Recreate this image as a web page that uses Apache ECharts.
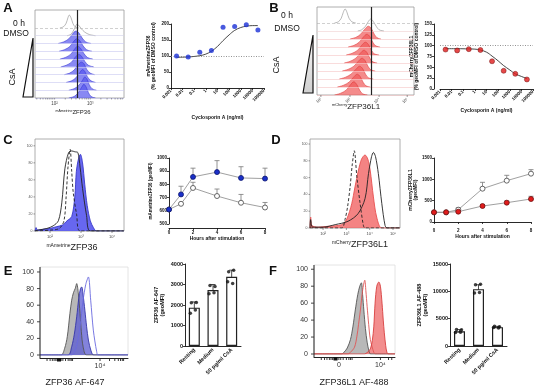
<!DOCTYPE html>
<html>
<head>
<meta charset="utf-8">
<script src="https://cdn.jsdelivr.net/npm/echarts@6/dist/echarts.min.js"></script>
<style>
html, body { margin: 0; padding: 0; background: #fff; }
#chart { width: 534px; height: 389px; }
</style>
</head>
<body>
<div id="chart"></div>
<script>
// ---------- data ----------
// A / B : flow ridge plots, [x (0-100 across the box), height in rows]
const ridgeA0h = [[28, 0], [32, 0.15], [35, 0.6], [37, 1.3], [38.5, 1.65], [40.5, 1.3], [42.5, 0.6], [45, 0.15], [49, 0]]
const ridgeADmso = [[36, 0], [40, 0.15], [43, 0.6], [45.5, 1.2], [47, 1.45], [49, 1.35], [52, 0.9], [56, 0.45], [61, 0.15], [68, 0]]
const ridgeACsa = [
  [[26, 0], [32, 0.2], [38, 0.6], [42, 1.2], [46, 1.6], [49, 1.4], [53, 0.7], [57, 0.2], [63, 0]],
  [[27, 0], [33, 0.2], [39, 0.6], [43, 1.2], [47, 1.6], [50, 1.4], [54, 0.7], [58, 0.2], [64, 0]],
  [[28, 0], [34, 0.2], [40, 0.6], [44, 1.2], [48, 1.65], [51, 1.4], [55, 0.7], [59, 0.2], [65, 0]],
  [[29, 0], [35, 0.2], [41, 0.6], [45, 1.2], [49, 1.6], [52, 1.4], [56, 0.7], [60, 0.2], [66, 0]],
  [[33, 0], [39, 0.2], [44, 0.6], [48, 1.2], [52, 1.6], [55, 1.4], [58, 0.7], [62, 0.2], [67, 0]],
  [[35, 0], [41, 0.2], [46, 0.6], [50, 1.2], [53.5, 1.65], [56, 1.4], [59, 0.7], [63, 0.2], [68, 0]],
  [[38, 0], [44, 0.2], [49, 0.6], [53, 1.2], [56, 1.7], [58.5, 1.4], [61, 0.7], [64, 0.2], [69, 0]],
  [[38, 0], [44, 0.2], [48, 0.6], [52, 1.3], [55, 1.75], [57.5, 1.4], [60, 0.7], [63, 0.2], [68, 0]]
]
const ridgeB0h = [[18, 0], [22, 0.15], [25, 0.6], [27, 1.3], [29, 1.75], [31, 1.3], [33, 0.6], [36, 0.15], [40, 0]]
const ridgeBDmso = [[42, 0], [46, 0.15], [50, 0.6], [53, 1.2], [55.5, 1.5], [58, 1.2], [61, 0.6], [64, 0.15], [69, 0]]
const ridgeBCsa = [
  [[34, 0], [40, 0.2], [45, 0.6], [49, 1.2], [53, 1.6], [56, 1.3], [59, 0.6], [62, 0.15], [66, 0]],
  [[32, 0], [38, 0.2], [43.5, 0.6], [47.5, 1.2], [51.5, 1.6], [54.5, 1.3], [57.5, 0.6], [60.5, 0.15], [65, 0]],
  [[30, 0], [36, 0.2], [42, 0.6], [46, 1.2], [50, 1.6], [53, 1.3], [56, 0.6], [59, 0.15], [64, 0]],
  [[28, 0], [34, 0.2], [40, 0.6], [44.5, 1.2], [48.5, 1.6], [51.5, 1.3], [54.5, 0.6], [57.5, 0.15], [62, 0]],
  [[26, 0], [32, 0.2], [38, 0.6], [42.5, 1.2], [46.5, 1.6], [49.5, 1.3], [52.5, 0.6], [55.5, 0.15], [60, 0]],
  [[23, 0], [29, 0.2], [35, 0.6], [40, 1.2], [44, 1.6], [47, 1.3], [50, 0.6], [53, 0.15], [58, 0]],
  [[21, 0], [27, 0.2], [33, 0.6], [37.5, 1.2], [41.5, 1.6], [44.5, 1.3], [47.5, 0.6], [50.5, 0.15], [55, 0]],
  [[18, 0], [24, 0.2], [30, 0.6], [34, 1.2], [38, 1.65], [41, 1.3], [44, 0.6], [47, 0.15], [52, 0]]
]
const ridgeAGate = 48
const ridgeBGate = 55.7
const ridgeATicks = [2, 6, 9, 12, 14, 16, 18, 20, 22, 34, 41, 46, 50, 53, 56, 58, 60, 62, 74, 81, 86, 90, 93, 96, 98]
const ridgeALabelPos = [22, 62]
const ridgeALabels = ['10²', '10³']
const ridgeBLabelPos = [4, 34, 64, 93]
const ridgeBLabels = ['10²', '10³', '10⁴', '10⁵']

// A / B : dose response
const doses = [0.003, 0.03, 0.3, 3, 30, 300, 3000, 30000]
const doseZfp36 = [100, 97, 112, 117, 190, 192, 198, 181]
const doseZfp36l1 = [91, 89, 92, 90, 64, 42, 35, 22]
const fitDoses = [0.003, 0.03, 0.3, 1, 3, 10, 30, 100, 300, 1000, 3000, 10000, 30000]
const fitZfp36 = [96, 97, 101, 106, 115, 130, 148, 166, 180, 189, 193, 195, 195]
const fitZfp36l1 = [93, 93, 92.5, 92, 90, 85, 76, 65, 54, 44, 35, 29, 24]

// C / D : overlay histograms, [log10 intensity, % of max]
const histCDashed = [[1.52, 0], [2.0, 1], [2.3, 3], [2.45, 12], [2.52, 40], [2.58, 75], [2.65, 96], [2.7, 70], [2.75, 45], [2.86, 19], [2.97, 0], [4.38, 0]]
const histCSolid = [[1.52, 0], [1.6, 1], [1.9, 3], [2.1, 6], [2.27, 12], [2.38, 33], [2.48, 73], [2.6, 92], [2.7, 94], [2.8, 93], [2.9, 92], [2.97, 75], [3.05, 50], [3.18, 18], [3.3, 0], [4.38, 0]]
const histCFilled = [[1.52, 0], [1.55, 4], [1.6, 1], [1.8, 2], [2.0, 3], [2.2, 5], [2.4, 7], [2.55, 12], [2.7, 17], [2.8, 40], [2.85, 70], [2.92, 85], [2.98, 90], [3.05, 80], [3.12, 55], [3.2, 30], [3.3, 12], [3.4, 4], [3.5, 0], [4.38, 0]]
const histDDashed = [[1.44, 0], [2.8, 0], [2.94, 10], [3.05, 25], [3.16, 49], [3.25, 75], [3.34, 92], [3.45, 61], [3.59, 29], [3.73, 3], [3.8, 0], [5.29, 0]]
const histDSolid = [[1.44, 0], [1.47, 10], [1.55, 1], [2.0, 1], [2.52, 4], [3.07, 8], [3.5, 17], [3.8, 35], [3.95, 65], [4.08, 85], [4.16, 90], [4.25, 85], [4.37, 65], [4.52, 29], [4.66, 3], [4.75, 0], [5.29, 0]]
const histDFilled = [[1.44, 0], [1.47, 13], [1.52, 3], [1.8, 1], [2.2, 2], [2.8, 4], [3.02, 11], [3.23, 29], [3.37, 49], [3.52, 69], [3.65, 82], [3.8, 87], [3.92, 82], [4.02, 69], [4.16, 37], [4.3, 13], [4.52, 0], [5.29, 0]]
const histCLabelPos = [2, 3, 4]
const histCLabels = ['10²', '10³', '10⁴']
const histDLabelPos = [2, 3, 4, 5]
const histDLabels = ['10²', '10³', '10⁴', '10⁵']
const pctTickValues = [0, 20, 40, 60, 80, 100]

// C / D : time course (geoMFI)
const hours = [0, 1, 2, 4, 6, 8]
const cCsaMean = [610, 724, 857, 893, 849, 844]
const cCsaTop = [610, 786, 923, 980, 934, 923]
const cCtrlMean = [610, 653, 773, 712, 661, 625]
const cCtrlTop = [610, 653, 816, 765, 724, 663]
const dCtrlMean = [227, 227, 289, 781, 969, 1133]
const dCtrlTop = [227, 227, 328, 930, 1094, 1227]
const dCsaMean = [227, 227, 242, 375, 453, 539]
const dCsaTop = [227, 227, 250, 406, 492, 602]

// E / F : antibody staining histograms, [x (0-100 across the box), % of max]
const histEResting = [[0, 0], [24, 0], [28, 8], [31, 22], [34, 50], [36, 66], [38, 75], [40, 80], [41.7, 86], [43.5, 75], [45.5, 50], [47, 28], [49, 10], [53, 0], [100, 0]]
const histEMedium = [[0, 0], [32, 0], [36, 10], [39, 25], [41.7, 46], [44, 68], [46, 80], [47.4, 82], [49, 72], [51, 54], [53, 34], [55, 18], [58, 5], [61, 0], [100, 0]]
const histECsa = [[0, 0], [36, 0], [40, 6], [43, 18], [45.5, 34], [49, 66], [52, 85], [55, 94], [57.6, 66], [60.6, 30], [64.4, 4], [66, 0], [100, 0]]
const histFResting = [[0, 0], [34, 0], [37, 2], [41, 7], [45, 17], [48, 32], [51, 52], [54, 70], [56.5, 80], [58.5, 84], [60, 70], [61.5, 52], [63.5, 30], [65.6, 14], [68, 3], [70, 0], [100, 0]]
const histFCsa = [[0, 0], [42, 0], [45, 2], [50, 8], [53, 21], [55, 35], [57.3, 52], [60, 75], [62.7, 87], [64, 75], [65.6, 56], [67.5, 35], [69.6, 17], [73.8, 2], [76, 0], [100, 0]]
const histFMedium = [[0, 0], [62, 0], [66, 2], [69.6, 6], [72, 16], [73.8, 32], [75.4, 60], [77.5, 80], [80, 85], [82, 80], [84, 60], [85.5, 40], [86.8, 25], [88.5, 10], [90, 2], [92, 0], [100, 0]]
const histETicks = [8, 11.5, 14, 16, 18, 19.5, 20.5, 21, 21.5, 22, 22.5, 24, 26, 29, 32, 34, 35.5, 37, 68.2, 79, 85, 89, 91.5, 93.5, 95]
const histELabelPos = [68.2]
const histELabels = ['10⁴']
const histFTicks = [9, 13, 16, 19, 21, 23, 25, 26, 26.5, 27, 27.5, 28, 30.7, 33, 36, 40, 43, 45, 47, 82, 92, 96]
const histFLabelPos = [30.7, 82]
const histFLabels = ['0', '10⁴']

// E / F : bar charts
const groups = ['Resting', 'Medium', '50 pg/ml CsA']
const eMeans = [1870, 2730, 3380]
const eLow = [1600, 2470, 3060]
const eHigh = [2150, 3000, 3700]
const eDots = [[2110, 2120, 1600, 1760], [2950, 2900, 2550, 2600], [3620, 3700, 3130, 3050]]
const fMeans = [2700, 10400, 3450]
const fLow = [2400, 9600, 3300]
const fHigh = [3000, 11200, 3600]
const fDots = [[3000, 2950, 2450, 2500], [11200, 11300, 9700, 9800], [3600, 3500, 3400, 3300]]
const dotJitter = [-3, 2, -4, 1]

// ---------- helpers ----------
const FONT = 'Liberation Sans'
const chart = echarts.init(document.getElementById('chart'), null, { renderer: 'canvas' })
const plain = v => String(v)

function prismAxis(extra) {
  return Object.assign({
    axisLine: { show: true, lineStyle: { color: '#111', width: 0.9 } },
    axisTick: { show: true, length: 2, lineStyle: { color: '#111', width: 0.8 } },
    axisLabel: { fontFamily: FONT, fontSize: 4.5, fontWeight: 'bold', color: '#111', margin: 2, formatter: plain },
    splitLine: { show: false },
    nameTextStyle: { fontFamily: FONT, fontSize: 5, fontWeight: 'bold', color: '#111' }
  }, extra)
}

// flow axes: the library scale only, ticks and labels are added after layout
function bareAxis(extra) {
  return Object.assign({
    axisLine: { show: false }, axisTick: { show: false }, axisLabel: { show: false }, splitLine: { show: false }
  }, extra)
}

function errBars(gi, data, color, both) {
  return {
    type: 'custom', xAxisIndex: gi, yAxisIndex: gi, z: 1, silent: true,
    encode: { x: 0, y: [1, 2] },
    data: data,
    renderItem: function (params, api) {
      const lo = api.coord([api.value(0), api.value(1)])
      const hi = api.coord([api.value(0), api.value(2)])
      const st = { stroke: color, lineWidth: 0.8 }
      const kids = [
        { type: 'line', shape: { x1: lo[0], y1: lo[1], x2: hi[0], y2: hi[1] }, style: st },
        { type: 'line', shape: { x1: hi[0] - 2.5, y1: hi[1], x2: hi[0] + 2.5, y2: hi[1] }, style: st }
      ]
      if (both) kids.push({ type: 'line', shape: { x1: lo[0] - 2.5, y1: lo[1], x2: lo[0] + 2.5, y2: lo[1] }, style: st })
      return { type: 'group', children: kids }
    }
  }
}

function ridgeSeries(gi, curves, fills, lines, baseColors, gate) {
  const n = curves.length
  return curves.map(function (pts, i) {
    const base = n - 1 - i
    const s = {
      type: 'line', xAxisIndex: gi, yAxisIndex: gi, smooth: 0.35, symbol: 'none', silent: true,
      data: pts.map(p => [p[0], base + p[1]]),
      lineStyle: { color: lines[i], width: 0.6 },
      markLine: {
        silent: true, symbol: 'none', label: { show: false },
        lineStyle: { color: baseColors[i], width: 0.6, type: i === 0 ? [3, 2] : 'solid' },
        data: [{ yAxis: base }]
      }
    }
    if (fills[i]) s.areaStyle = { color: fills[i], opacity: 0.7, origin: base }
    if (i === n - 1) {
      s.markLine.data.push({ xAxis: gate, lineStyle: { color: '#222', width: 1.2, type: 'solid' } })
    }
    return s
  })
}

function histSeries(gi, data, line, fill, dashed, opacity) {
  const s = {
    type: 'line', xAxisIndex: gi, yAxisIndex: gi, smooth: 0.3, symbol: 'none', silent: true,
    data: data,
    lineStyle: { color: line, width: 0.9, type: dashed ? [3, 2] : 'solid' }
  }
  if (fill) s.areaStyle = { color: fill, opacity: opacity, origin: 0 }
  return s
}

function dotSeries(gi, dots) {
  const d = []
  dots.forEach(function (vals, ci) {
    vals.forEach(function (v, j) {
      d.push({ value: [ci, v], symbolOffset: [dotJitter[j], 0] })
    })
  })
  return {
    type: 'scatter', xAxisIndex: gi, yAxisIndex: gi, symbolSize: 3.5, z: 5, silent: true,
    itemStyle: { color: '#111' }, data: d
  }
}

// ---------- grids ----------
const grids = [
  { left: 35, top: 10, width: 89, height: 88, show: true, borderColor: '#999', borderWidth: 0.8 },   // 0 ridge A
  { left: 171, top: 24, width: 93, height: 64 },                                                    // 1 dose A
  { left: 317, top: 7, width: 97, height: 88, show: true, borderColor: '#999', borderWidth: 0.8 },  // 2 ridge B
  { left: 440, top: 24, width: 93, height: 65 },                                                    // 3 dose B
  { left: 35, top: 139, width: 89, height: 92, show: true, borderColor: '#999', borderWidth: 0.8 }, // 4 hist C
  { left: 169, top: 158, width: 96, height: 66 },                                                   // 5 time C
  { left: 310, top: 139, width: 90, height: 89, show: true, borderColor: '#999', borderWidth: 0.8 },// 6 hist D
  { left: 434, top: 158, width: 97, height: 64 },                                                   // 7 time D
  { left: 40, top: 267, width: 88, height: 88, show: true, borderColor: '#ddd', borderWidth: 0.8 }, // 8 hist E
  { left: 185, top: 264, width: 56, height: 82 },                                                   // 9 bar E
  { left: 314, top: 265, width: 81, height: 89, show: true, borderColor: '#ddd', borderWidth: 0.8 },// 10 hist F
  { left: 450, top: 264, width: 57, height: 82 }                                                    // 11 bar F
].map(g => Object.assign({ outerBoundsMode: 'none', containLabel: false }, g))

const xAxes = [
  bareAxis({ gridIndex: 0, type: 'value', min: 0, max: 100 }),
  prismAxis({ gridIndex: 1, type: 'log', min: 0.001, max: 100000, splitNumber: 8,
    axisLabel: { rotate: 45, fontFamily: FONT, fontSize: 4.5, fontWeight: 'bold', color: '#111', margin: 2, formatter: v => String(+(+v).toPrecision(3)) },
    name: 'Cyclosporin A (ng/ml)', nameLocation: 'middle', nameGap: 27 }),
  bareAxis({ gridIndex: 2, type: 'value', min: 0, max: 100 }),
  prismAxis({ gridIndex: 3, type: 'log', min: 0.001, max: 100000, splitNumber: 8,
    axisLabel: { rotate: 45, fontFamily: FONT, fontSize: 4.5, fontWeight: 'bold', color: '#111', margin: 2, formatter: v => String(+(+v).toPrecision(3)) },
    name: 'Cyclosporin A (ng/ml)', nameLocation: 'middle', nameGap: 19 }),
  bareAxis({ gridIndex: 4, type: 'value', min: 1.516, max: 4.387 }),
  prismAxis({ gridIndex: 5, type: 'value', min: 0, max: 8, interval: 2, offset: 4,
    name: 'Hours after stimulation', nameLocation: 'middle', nameGap: 8 }),
  bareAxis({ gridIndex: 6, type: 'value', min: 1.44, max: 5.3 }),
  prismAxis({ gridIndex: 7, type: 'value', min: 0, max: 8, interval: 2, offset: 4,
    name: 'Hours after stimulation', nameLocation: 'middle', nameGap: 8 }),
  bareAxis({ gridIndex: 8, type: 'value', min: 0, max: 100, offset: 3,
    axisLine: { show: true, onZero: false, lineStyle: { color: '#222', width: 1 } } }),
  prismAxis({ gridIndex: 9, type: 'category', data: groups,
    axisTick: { show: false },
    axisLabel: { rotate: 45, interval: 0, fontFamily: FONT, fontSize: 5.5, fontWeight: 'bold', color: '#111', margin: 3 } }),
  bareAxis({ gridIndex: 10, type: 'value', min: 0, max: 100, offset: 3,
    axisLine: { show: true, onZero: false, lineStyle: { color: '#222', width: 1 } } }),
  prismAxis({ gridIndex: 11, type: 'category', data: groups,
    axisTick: { show: false },
    axisLabel: { rotate: 45, interval: 0, fontFamily: FONT, fontSize: 5.5, fontWeight: 'bold', color: '#111', margin: 3 } })
]

const yAxes = [
  bareAxis({ gridIndex: 0, type: 'value', min: 0, max: 11.3 }),
  prismAxis({ gridIndex: 1, type: 'value', min: 0, max: 200, interval: 50,
    name: 'mAmetrineZFP36\n(% geoMFI of DMSO control)', nameLocation: 'middle', nameGap: 15, nameRotate: 90 }),
  bareAxis({ gridIndex: 2, type: 'value', min: 0, max: 11 }),
  prismAxis({ gridIndex: 3, type: 'value', min: 0, max: 150, interval: 25, offset: 6,
    name: 'mCherryZFP36L1\n(% geoMFI of DMSO control)', nameLocation: 'middle', nameGap: 15, nameRotate: 90 }),
  bareAxis({ gridIndex: 4, type: 'value', min: 0, max: 108 }),
  prismAxis({ gridIndex: 5, type: 'value', min: 500, max: 1000, interval: 100,
    name: 'mAmetrineZFP36 (geoMFI)', nameLocation: 'middle', nameGap: 10, nameRotate: 90,
    nameTextStyle: { fontFamily: FONT, fontSize: 4.5, fontWeight: 'bold', color: '#111' } }),
  bareAxis({ gridIndex: 6, type: 'value', min: 0, max: 106 }),
  prismAxis({ gridIndex: 7, type: 'value', min: 0, max: 1500, interval: 500,
    name: 'mCherryZFP36L1\n(geoMFI)', nameLocation: 'middle', nameGap: 13, nameRotate: 90 }),
  bareAxis({ gridIndex: 8, type: 'value', min: 0, max: 106 }),
  prismAxis({ gridIndex: 9, type: 'value', min: 0, max: 4000, interval: 1000,
    axisLabel: { fontFamily: FONT, fontSize: 5.5, fontWeight: 'bold', color: '#111', margin: 2, formatter: plain },
    name: 'ZFP36 AF-647\n(geoMFI)', nameLocation: 'middle', nameGap: 19, nameRotate: 90,
    nameTextStyle: { fontFamily: FONT, fontSize: 5.5, fontWeight: 'bold', color: '#111', lineHeight: 6.5 } }),
  bareAxis({ gridIndex: 10, type: 'value', min: 0, max: 105 }),
  prismAxis({ gridIndex: 11, type: 'value', min: 0, max: 15000, interval: 5000,
    axisLabel: { fontFamily: FONT, fontSize: 5.5, fontWeight: 'bold', color: '#111', margin: 2, formatter: plain },
    name: 'ZFP36L1 AF-488\n(geoMFI)', nameLocation: 'middle', nameGap: 19, nameRotate: 90,
    nameTextStyle: { fontFamily: FONT, fontSize: 5.5, fontWeight: 'bold', color: '#111', lineHeight: 6.5 } })
]

// ---------- series ----------
const blueFill = '#5656ee'
const redFill = '#f05a5a'
const series = []

series.push.apply(series, ridgeSeries(0,
  [ridgeA0h, ridgeADmso].concat(ridgeACsa),
  [null, null].concat(ridgeACsa.map(() => blueFill)),
  ['#8a8a8a', '#8a8a8a'].concat(ridgeACsa.map(() => '#3a3ad4')),
  ['#b0b0b0', '#d0d0e8'].concat(ridgeACsa.map(() => '#c8c8f0')),
  ridgeAGate))
series.push.apply(series, ridgeSeries(2,
  [ridgeB0h, ridgeBDmso].concat(ridgeBCsa),
  [null, null].concat(ridgeBCsa.map(() => redFill)),
  ['#8a8a8a', '#8a8a8a'].concat(ridgeBCsa.map(() => '#e03a3a')),
  ['#b0b0b0', '#f0d0d0'].concat(ridgeBCsa.map(() => '#f5c4c4')),
  ridgeBGate))

// dose response
series.push({
  type: 'line', xAxisIndex: 1, yAxisIndex: 1, smooth: 0.4, symbol: 'none', silent: true,
  data: fitDoses.map((d, i) => [d, fitZfp36[i]]),
  lineStyle: { color: '#333', width: 0.9 },
  markLine: { silent: true, symbol: 'none', label: { show: false }, lineStyle: { color: '#777', type: [1, 1.5], width: 0.8 }, data: [{ yAxis: 100 }] }
})
series.push({
  type: 'scatter', xAxisIndex: 1, yAxisIndex: 1, symbolSize: 5, silent: true, z: 5,
  itemStyle: { color: '#1a2fd6' }, data: doses.map((d, i) => [d, doseZfp36[i]])
})
series.push({
  type: 'line', xAxisIndex: 3, yAxisIndex: 3, smooth: 0.4, symbol: 'none', silent: true,
  data: fitDoses.map((d, i) => [d, fitZfp36l1[i]]),
  lineStyle: { color: '#333', width: 0.9 },
  markLine: { silent: true, symbol: 'none', label: { show: false }, lineStyle: { color: '#777', type: [1, 1.5], width: 0.8 }, data: [{ yAxis: 100 }] }
})
series.push({
  type: 'scatter', xAxisIndex: 3, yAxisIndex: 3, symbolSize: 5, silent: true, z: 5,
  itemStyle: { color: '#e01c1c', borderColor: '#701010', borderWidth: 0.6 }, data: doses.map((d, i) => [d, doseZfp36l1[i]])
})

// C / D histograms
series.push(histSeries(4, histCFilled, '#3838c8', blueFill, false, 0.9))
series.push(histSeries(4, histCSolid, '#222', null, false))
series.push(histSeries(4, histCDashed, '#222', null, true))
series.push(histSeries(6, histDFilled, '#e85050', redFill, false, 0.75))
series.push(histSeries(6, histDSolid, '#222', null, false))
series.push(histSeries(6, histDDashed, '#222', null, true))

// C / D time courses
function timeLine(gi, mean, filled, fillColor, border) {
  return {
    type: 'line', xAxisIndex: gi, yAxisIndex: gi, symbol: 'circle', symbolSize: 5, z: 4, silent: true,
    data: hours.map((h, i) => [h, mean[i]]),
    lineStyle: { color: '#888', width: 0.8 },
    itemStyle: { color: filled ? fillColor : '#fff', borderColor: border, borderWidth: 0.8 }
  }
}
series.push(errBars(5, hours.map((h, i) => [h, cCsaMean[i], cCsaTop[i]]), '#777'))
series.push(errBars(5, hours.map((h, i) => [h, cCtrlMean[i], cCtrlTop[i]]), '#777'))
series.push(timeLine(5, cCtrlMean, false, null, '#444'))
series.push(timeLine(5, cCsaMean, true, '#1a2fc8', '#0c1670'))
series.push(errBars(7, hours.map((h, i) => [h, dCtrlMean[i], dCtrlTop[i]]), '#777'))
series.push(errBars(7, hours.map((h, i) => [h, dCsaMean[i], dCsaTop[i]]), '#777'))
series.push(timeLine(7, dCtrlMean, false, null, '#444'))
series.push(timeLine(7, dCsaMean, true, '#e01c1c', '#701010'))

// E / F histograms
series.push(histSeries(8, histEResting, '#555', '#b8b8b8', false, 1))
series.push(histSeries(8, histEMedium, '#3434a8', '#5a5ad0', false, 0.75))
series.push(histSeries(8, histECsa, '#6a6ae0', null, false))
series.push(histSeries(10, histFResting, '#555', '#b8b8b8', false, 1))
series.push(histSeries(10, histFCsa, '#e05555', null, false))
series.push(histSeries(10, histFMedium, '#d84040', '#f07a7a', false, 0.85))

// E / F bars
series.push({
  type: 'bar', xAxisIndex: 9, yAxisIndex: 9, barWidth: 11, silent: true, data: eMeans,
  itemStyle: { color: '#fff', borderColor: '#222', borderWidth: 1.2 }
})
series.push(errBars(9, groups.map((g, i) => [i, eLow[i], eHigh[i]]), '#222', true))
series.push(dotSeries(9, eDots))
series.push({
  type: 'bar', xAxisIndex: 11, yAxisIndex: 11, barWidth: 11, silent: true, data: fMeans,
  itemStyle: { color: '#fff', borderColor: '#222', borderWidth: 1.2 }
})
series.push(errBars(11, groups.map((g, i) => [i, fLow[i], fHigh[i]]), '#222', true))
series.push(dotSeries(11, fDots))

// ---------- text / decorations ----------
function txt(x, y, text, size, extra) {
  return {
    type: 'text', x: x, y: y, silent: true,
    style: Object.assign({ text: text, fontFamily: FONT, fontSize: size, fill: '#111', align: 'center', verticalAlign: 'middle' }, extra || {})
  }
}
function richTxt(x, y, sup, main, supSize, mainSize) {
  return {
    type: 'text', x: x, y: y, silent: true,
    style: {
      text: '{s|' + sup + '}{m|' + main + '}', align: 'center', verticalAlign: 'middle',
      rich: {
        s: { fontFamily: FONT, fontSize: supSize, fill: '#222', verticalAlign: 'top', padding: [0, 0, mainSize * 0.45, 0] },
        m: { fontFamily: FONT, fontSize: mainSize, fill: '#222' }
      }
    }
  }
}

const graphics = [
  txt(8, 8, 'A', 13, { fontWeight: 'bold' }),
  txt(274, 8, 'B', 13, { fontWeight: 'bold' }),
  txt(8, 140, 'C', 13, { fontWeight: 'bold' }),
  txt(276, 140, 'D', 13, { fontWeight: 'bold' }),
  txt(8, 271, 'E', 13, { fontWeight: 'bold' }),
  txt(273, 271, 'F', 13, { fontWeight: 'bold' }),
  txt(19, 23.5, '0 h', 8.5),
  txt(16, 33.5, 'DMSO', 8.5),
  txt(287, 16, '0 h', 8.5),
  txt(287, 29, 'DMSO', 8.5),
  { type: 'text', x: 13, y: 77, rotation: Math.PI / 2, silent: true,
    style: { text: 'CsA', fontFamily: FONT, fontSize: 9, fill: '#111', align: 'center', verticalAlign: 'middle' } },
  { type: 'text', x: 277, y: 65, rotation: Math.PI / 2, silent: true,
    style: { text: 'CsA', fontFamily: FONT, fontSize: 9, fill: '#111', align: 'center', verticalAlign: 'middle' } },
  { type: 'polygon', silent: true, shape: { points: [[23, 97], [33, 38], [33, 97]] },
    style: { fill: '#fff', stroke: '#111', lineWidth: 1.2 } },
  { type: 'polygon', silent: true, shape: { points: [[303, 93], [313, 35], [313, 93]] },
    style: {
      fill: { type: 'linear', x: 0, y: 0, x2: 0, y2: 1, colorStops: [{ offset: 0, color: '#fafafa' }, { offset: 1, color: '#cfcfcf' }] },
      stroke: '#111', lineWidth: 1.2
    } },
  richTxt(73, 112, 'mAmetrine', 'ZFP36', 3.5, 6),
  richTxt(356, 107, 'mCherry', 'ZFP36L1', 4, 8),
  richTxt(72, 248, 'mAmetrine', 'ZFP36', 5, 9),
  richTxt(360, 245, 'mCherry', 'ZFP36L1', 5, 9),
  txt(75, 383, 'ZFP36 AF-647', 9, { fill: '#222' }),
  txt(354, 383, 'ZFP36L1 AF-488', 9, { fill: '#222' })
]

chart.setOption({
  animation: false,
  backgroundColor: '#fff',
  textStyle: { fontFamily: FONT },
  grid: grids,
  xAxis: xAxes,
  yAxis: yAxes,
  series: series,
  graphic: graphics
})

// ---------- flow cytometry axis ticks, placed with the library's own scales ----------
const flowX = [
  { gi: 0, ticks: ridgeATicks, pos: ridgeALabelPos, labels: ridgeALabels, len: 1.5, size: 4.5, color: '#555', lw: 0.5, rot: 0, drop: 0 },
  { gi: 2, ticks: ridgeBLabelPos, pos: ridgeBLabelPos, labels: ridgeBLabels, len: 2, size: 4, color: '#555', lw: 0.6, rot: 45, drop: 0 },
  { gi: 4, ticks: histCLabelPos, pos: histCLabelPos, labels: histCLabels, len: 2, size: 4, color: '#555', lw: 0.6, rot: 0, drop: 0 },
  { gi: 6, ticks: histDLabelPos, pos: histDLabelPos, labels: histDLabels, len: 2, size: 4, color: '#555', lw: 0.6, rot: 0, drop: 0 },
  { gi: 8, ticks: histETicks, pos: histELabelPos, labels: histELabels, len: 3, size: 7, color: '#222', lw: 0.9, rot: 0, drop: 3, zero: 21.6 },
  { gi: 10, ticks: histFTicks, pos: histFLabelPos, labels: histFLabels, len: 3, size: 7, color: '#222', lw: 0.9, rot: 0, drop: 3, zero: 26.6 }
]
const flowY = [
  { gi: 4, xv: 3, len: 1.5, size: 3.5, color: '#555', lw: 0.6, margin: 3, line: false },
  { gi: 6, xv: 3, len: 1.5, size: 3.5, color: '#555', lw: 0.6, margin: 3, line: false },
  { gi: 8, xv: 50, len: 3, size: 7, color: '#333', lw: 0.9, margin: 5, line: true },
  { gi: 10, xv: 50, len: 3, size: 7, color: '#333', lw: 0.9, margin: 5, line: true }
]

const tickGraphics = []
flowX.forEach(function (f) {
  const finder = { xAxisIndex: f.gi, yAxisIndex: f.gi }
  const yMin = chart.getModel().getComponent('yAxis', f.gi).axis.scale.getExtent()[0]
  const y0 = chart.convertToPixel(finder, [f.ticks[0], yMin])[1] + f.drop
  f.ticks.forEach(function (t) {
    const x = chart.convertToPixel(finder, [t, yMin])[0]
    tickGraphics.push({ type: 'line', silent: true, z: 50, shape: { x1: x, y1: y0, x2: x, y2: y0 + f.len }, style: { stroke: f.color, lineWidth: f.lw } })
  })
  f.pos.forEach(function (p, i) {
    const x = chart.convertToPixel(finder, [p, yMin])[0]
    tickGraphics.push({
      type: 'text', silent: true, z: 50, x: x, y: y0 + f.len + 1.5, rotation: f.rot * Math.PI / 180,
      style: { text: f.labels[i], fontFamily: FONT, fontSize: f.size, fill: f.color === '#222' ? '#333' : '#444',
        align: f.rot ? 'right' : 'center', verticalAlign: f.rot ? 'middle' : 'top' }
    })
  })
  if (f.zero !== undefined) {
    const x = chart.convertToPixel(finder, [f.zero, yMin])[0]
    tickGraphics.push({ type: 'rect', silent: true, z: 50, shape: { x: x - 2, y: y0, width: 4, height: 3.5 }, style: { fill: '#111' } })
  }
})
flowY.forEach(function (f) {
  const finder = { xAxisIndex: f.gi, yAxisIndex: f.gi }
  const x0 = grids[f.gi].left
  const yOf = v => chart.convertToPixel(finder, [f.xv, v])[1]
  if (f.line) {
    tickGraphics.push({ type: 'line', silent: true, z: 50, shape: { x1: x0, y1: grids[f.gi].top, x2: x0, y2: yOf(0) + 3 }, style: { stroke: '#222', lineWidth: 1 } })
  }
  pctTickValues.forEach(function (v) {
    const y = yOf(v)
    tickGraphics.push({ type: 'line', silent: true, z: 50, shape: { x1: x0 - f.len, y1: y, x2: x0, y2: y }, style: { stroke: f.color, lineWidth: f.lw } })
    tickGraphics.push({
      type: 'text', silent: true, z: 50, x: x0 - f.len - f.margin + 2, y: y,
      style: { text: String(v), fontFamily: FONT, fontSize: f.size, fill: f.color, align: 'right', verticalAlign: 'middle' }
    })
  })
})

chart.setOption({ graphic: graphics.concat(tickGraphics) })
</script>
</body>
</html>
